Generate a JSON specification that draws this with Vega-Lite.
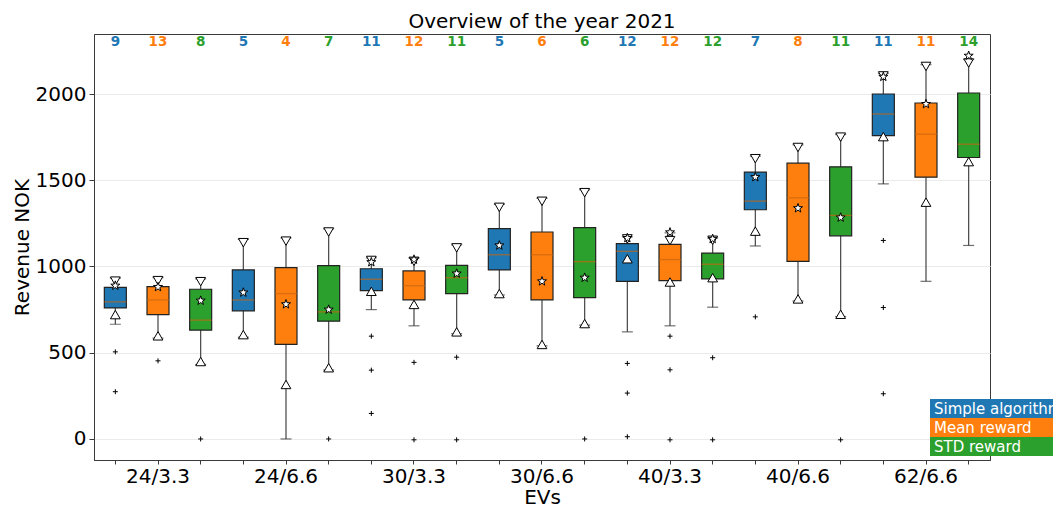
{
  "$schema": "https://vega.github.io/schema/vega-lite/v6.json",
  "autosize": {"type": "none"},
  "width": 896,
  "height": 426,
  "padding": {"left": 94, "top": 34, "right": 63, "bottom": 47},
  "background": "white",
  "config": {
    "font": "DejaVu Sans",
    "view": {"stroke": "#3a3a3a", "strokeWidth": 1},
    "axis": {"labelFont": "DejaVu Sans", "titleFont": "DejaVu Sans", "labelFontSize": 20, "titleFontSize": 20, "labelColor": "black", "titleColor": "black", "titleFontWeight": "normal", "domainColor": "#3a3a3a", "tickColor": "#3a3a3a"},
    "axisY": {"labelFontSize": 20, "titleFontSize": 20, "titlePadding": 3, "labelPadding": 3, "tickSize": 5, "gridColor": "#ebebeb", "gridWidth": 1},
    "axisX": {"labelFontSize": 20, "titleFontSize": 20, "titlePadding": 1, "labelPadding": 2, "tickSize": 4}
  },
  "title": {"text": "Overview of the year 2021", "fontSize": 20, "fontWeight": "normal", "font": "DejaVu Sans", "color": "black", "anchor": "middle", "offset": 2},
  "data": {"values": [
    {"g": "24/3.3", "s": "Simple algorithm", "box": "24/3.3 | Simple algorithm", "n": 9, "lo": 665, "q1": 760, "med": 795, "q3": 879, "hi": 933, "mean": 889, "up": 721, "down": 915, "out": [505, 274]},
    {"g": "24/3.3", "s": "Mean reward", "box": "24/3.3 | Mean reward", "n": 13, "lo": 585, "q1": 721, "med": 806, "q3": 883, "hi": 935, "mean": 881, "up": 598, "down": 918, "out": [453]},
    {"g": "24/3.3", "s": "STD reward", "box": "24/3.3 | STD reward", "n": 8, "lo": 432, "q1": 631, "med": 689, "q3": 868, "hi": 928, "mean": 802, "up": 449, "down": 912, "out": [0]},
    {"g": "24/6.6", "s": "Simple algorithm", "box": "24/6.6 | Simple algorithm", "n": 5, "lo": 590, "q1": 743, "med": 806, "q3": 980, "hi": 1157, "mean": 849, "up": 605, "down": 1138, "out": []},
    {"g": "24/6.6", "s": "Mean reward", "box": "24/6.6 | Mean reward", "n": 4, "lo": 0, "q1": 548, "med": 843, "q3": 993, "hi": 1165, "mean": 781, "up": 316, "down": 1147, "out": []},
    {"g": "24/6.6", "s": "STD reward", "box": "24/6.6 | STD reward", "n": 7, "lo": 400, "q1": 683, "med": 737, "q3": 1005, "hi": 1218, "mean": 750, "up": 413, "down": 1200, "out": [0]},
    {"g": "30/3.3", "s": "Simple algorithm", "box": "30/3.3 | Simple algorithm", "n": 11, "lo": 750, "q1": 860, "med": 926, "q3": 987, "hi": 1050, "mean": 1025, "up": 856, "down": 1035, "out": [596, 399, 148]},
    {"g": "30/3.3", "s": "Mean reward", "box": "30/3.3 | Mean reward", "n": 12, "lo": 656, "q1": 806, "med": 889, "q3": 974, "hi": 1050, "mean": 1040, "up": 780, "down": 1030, "out": [444, -5]},
    {"g": "30/3.3", "s": "STD reward", "box": "30/3.3 | STD reward", "n": 11, "lo": 610, "q1": 843, "med": 935, "q3": 1007, "hi": 1125, "mean": 959, "up": 621, "down": 1108, "out": [474, -5]},
    {"g": "30/6.6", "s": "Simple algorithm", "box": "30/6.6 | Simple algorithm", "n": 5, "lo": 835, "q1": 980, "med": 1068, "q3": 1219, "hi": 1360, "mean": 1122, "up": 843, "down": 1343, "out": []},
    {"g": "30/6.6", "s": "Mean reward", "box": "30/6.6 | Mean reward", "n": 6, "lo": 540, "q1": 806, "med": 1068, "q3": 1200, "hi": 1395, "mean": 914, "up": 548, "down": 1378, "out": []},
    {"g": "30/6.6", "s": "STD reward", "box": "30/6.6 | STD reward", "n": 6, "lo": 660, "q1": 820, "med": 1028, "q3": 1225, "hi": 1445, "mean": 935, "up": 669, "down": 1428, "out": [0]},
    {"g": "40/3.3", "s": "Simple algorithm", "box": "40/3.3 | Simple algorithm", "n": 12, "lo": 621, "q1": 914, "med": 1088, "q3": 1132, "hi": 1172, "mean": 1165, "up": 1045, "down": 1160, "out": [438, 266, 13]},
    {"g": "40/3.3", "s": "Mean reward", "box": "40/3.3 | Mean reward", "n": 12, "lo": 656, "q1": 918, "med": 1040, "q3": 1128, "hi": 1195, "mean": 1198, "up": 910, "down": 1150, "out": [596, 401, -5]},
    {"g": "40/3.3", "s": "STD reward", "box": "40/3.3 | STD reward", "n": 12, "lo": 764, "q1": 928, "med": 1013, "q3": 1078, "hi": 1165, "mean": 1160, "up": 935, "down": 1152, "out": [471, -5]},
    {"g": "40/6.6", "s": "Simple algorithm", "box": "40/6.6 | Simple algorithm", "n": 7, "lo": 1119, "q1": 1329, "med": 1379, "q3": 1547, "hi": 1640, "mean": 1518, "up": 1205, "down": 1625, "out": [708]},
    {"g": "40/6.6", "s": "Mean reward", "box": "40/6.6 | Mean reward", "n": 8, "lo": 800, "q1": 1030, "med": 1398, "q3": 1599, "hi": 1705, "mean": 1338, "up": 812, "down": 1690, "out": []},
    {"g": "40/6.6", "s": "STD reward", "box": "40/6.6 | STD reward", "n": 11, "lo": 710, "q1": 1178, "med": 1296, "q3": 1578, "hi": 1765, "mean": 1284, "up": 723, "down": 1750, "out": [-5]},
    {"g": "62/6.6", "s": "Simple algorithm", "box": "62/6.6 | Simple algorithm", "n": 11, "lo": 1479, "q1": 1759, "med": 1884, "q3": 2000, "hi": 2120, "mean": 2100, "up": 1753, "down": 2105, "out": [1151, 762, 262]},
    {"g": "62/6.6", "s": "Mean reward", "box": "62/6.6 | Mean reward", "n": 11, "lo": 914, "q1": 1518, "med": 1767, "q3": 1948, "hi": 2170, "mean": 1942, "up": 1373, "down": 2160, "out": []},
    {"g": "62/6.6", "s": "STD reward", "box": "62/6.6 | STD reward", "n": 14, "lo": 1122, "q1": 1632, "med": 1709, "q3": 2006, "hi": 2200, "mean": 2222, "up": 1608, "down": 2180, "out": []}
  ]},
  "encoding": {
    "x": {
      "field": "box", "type": "nominal", "sort": null,
      "scale": {"type": "band", "paddingInner": 0, "paddingOuter": 0},
      "axis": {
        "title": "EVs", "labelAngle": 0, "grid": false,
        "labelExpr": "indexof(datum.value, 'Mean reward') >= 0 ? split(datum.value, ' | ')[0] : ''"
      }
    }
  },
  "layer": [
    {
      "mark": {"type": "rule", "color": "#444444", "strokeWidth": 1.2},
      "encoding": {
        "y": {"field": "lo", "type": "quantitative",
          "scale": {"domain": [-122, 2348], "nice": false, "zero": false},
          "axis": {"title": "Revenue NOK", "format": "d", "values": [0, 500, 1000, 1500, 2000], "grid": true}},
        "y2": {"field": "hi"}
      }
    },
    {
      "mark": {"type": "tick", "color": "#333333", "size": 11, "thickness": 1.2},
      "encoding": {"y": {"field": "lo", "type": "quantitative"}}
    },
    {
      "mark": {"type": "tick", "color": "#333333", "size": 11, "thickness": 1.2},
      "encoding": {"y": {"field": "hi", "type": "quantitative"}}
    },
    {
      "mark": {"type": "bar", "width": 22, "stroke": "#222222", "strokeWidth": 1.2},
      "encoding": {
        "y": {"field": "q1", "type": "quantitative"},
        "y2": {"field": "q3"},
        "fill": {
          "field": "s", "type": "nominal",
          "scale": {"domain": ["Simple algorithm", "Mean reward", "STD reward"], "range": ["#1f77b4", "#ff7f0e", "#2ca02c"]},
          "legend": {
            "orient": "none", "legendX": 836, "legendY": 365, "title": null, "padding": 0,
            "symbolType": "M-1,-1H40V1H-1Z", "symbolSize": 361, "symbolStrokeWidth": 0, "symbolOpacity": 1,
            "labelColor": "white", "labelFontSize": 15, "labelFont": "DejaVu Sans", "labelOffset": -15, "rowPadding": 0, "labelLimit": 300
          }
        }
      }
    },
    {
      "mark": {"type": "tick", "color": "#c8650f", "size": 22, "thickness": 1.3},
      "encoding": {"y": {"field": "med", "type": "quantitative"}}
    },
    {
      "transform": [{"flatten": ["out"]}],
      "mark": {"type": "point", "shape": "M-1,0H1M0,-1V1", "size": 25, "filled": false, "stroke": "black", "strokeWidth": 1, "opacity": 1},
      "encoding": {"y": {"field": "out", "type": "quantitative"}}
    },
    {
      "mark": {"type": "point", "shape": "triangle-down", "size": 95, "filled": true, "fill": "white", "stroke": "black", "strokeWidth": 1, "opacity": 1},
      "encoding": {"y": {"field": "down", "type": "quantitative"}}
    },
    {
      "mark": {"type": "point", "shape": "triangle-up", "size": 95, "filled": true, "fill": "white", "stroke": "black", "strokeWidth": 1, "opacity": 1},
      "encoding": {"y": {"field": "up", "type": "quantitative"}}
    },
    {
      "mark": {"type": "point", "shape": "M0,-1L0.235,-0.324L0.951,-0.309L0.38,0.124L0.588,0.809L0,0.4L-0.588,0.809L-0.38,0.124L-0.951,-0.309L-0.235,-0.324Z", "size": 90, "filled": true, "fill": "white", "stroke": "black", "strokeWidth": 1, "opacity": 1},
      "encoding": {"y": {"field": "mean", "type": "quantitative"}}
    },
    {
      "mark": {"type": "text", "fontSize": 13.5, "fontWeight": "bold", "font": "DejaVu Sans", "baseline": "middle", "align": "center"},
      "encoding": {
        "y": {"datum": 2300, "type": "quantitative"},
        "text": {"field": "n", "type": "quantitative"},
        "color": {"field": "s", "type": "nominal", "legend": null,
          "scale": {"domain": ["Simple algorithm", "Mean reward", "STD reward"], "range": ["#1f77b4", "#ff7f0e", "#2ca02c"]}}
      }
    }
  ]
}
